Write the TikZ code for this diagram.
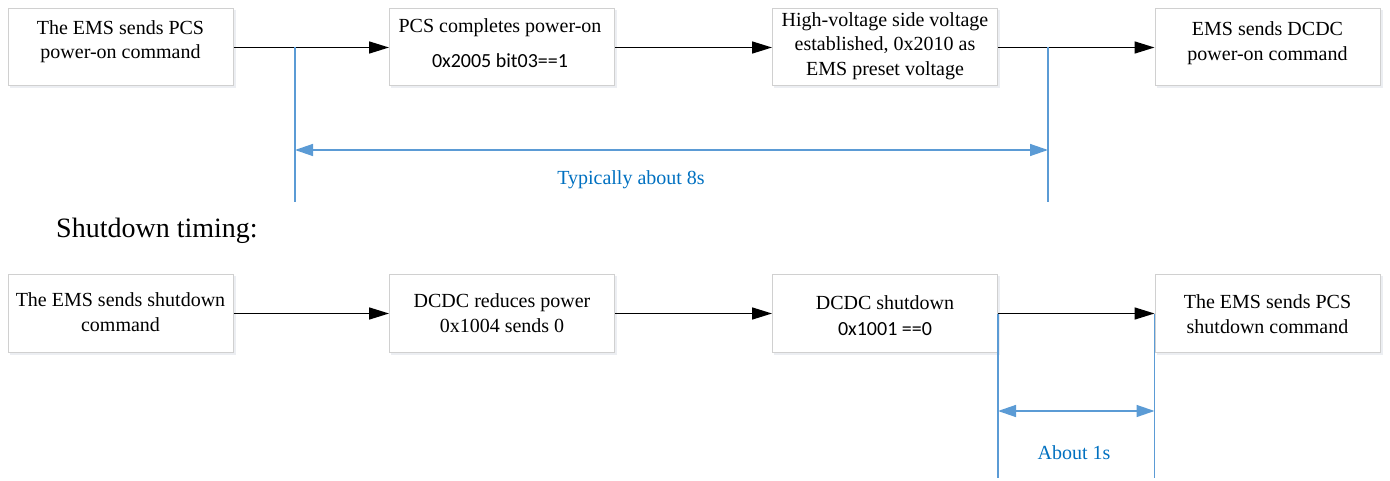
\documentclass[tikz,border=0pt]{standalone}
\usepackage{fontspec}
\setmainfont{Liberation Serif}
\newfontfamily\codefont{Carlito}
\usetikzlibrary{arrows.meta,calc}

\definecolor{boxline}{RGB}{208,208,208}
\definecolor{boxshade}{RGB}{236,238,242}
\definecolor{spanline}{RGB}{91,155,213}
\definecolor{spantext}{RGB}{0,112,192}

\tikzset{
  stepbox/.style={draw=boxline, line width=1pt, fill=white,
    minimum width=225pt, minimum height=77pt, inner sep=0pt},
  steptext/.style={align=center, inner sep=0pt,
    font=\fontsize{20}{24.5}\selectfont},
  flow/.style={line width=1.6pt, -{Triangle[length=20pt,width=12pt]}},
  span/.style={draw=spanline, line width=1.4pt},
  spanarrow/.style={span, {Triangle[length=18pt,width=12pt]}-{Triangle[length=18pt,width=12pt]}},
  spanlabel/.style={text=spantext, inner sep=0pt, font=\fontsize{20}{24}\selectfont},
}

\begin{document}
\begin{tikzpicture}[x=1pt, y=-1pt]
\useasboundingbox (0,0) rectangle (1390,481);

% soft shadows under the boxes
\foreach \cx/\cy in {120.5/47.5, 502/47.5, 885/47.5, 1267.5/47.5,
                     120.5/313.5, 502/313.5, 885/313.5, 1267.5/313.5}
  \fill[boxshade] (\cx-111,\cy-37) rectangle (\cx+115,\cy+41);

% ---- power-on sequence ----
\node[stepbox] (a1) at (120.5,47.5) {};
\node[stepbox] (a2) at (502,47.5) {};
\node[stepbox] (a3) at (885,47.5) {};
\node[stepbox] (a4) at (1267.5,47.5) {};

\node[steptext] (a1t) at (120.5,41.5) {The EMS sends PCS\\power-on command};
\node[steptext] (a2t) at (500,43) {PCS completes power-on\\[10pt]{\codefont 0x2005 bit03==1}};
\node[steptext] (a3t) at (885,46) {High-voltage side voltage\\established, 0x2010 as\\EMS preset voltage};
\node[steptext] (a4t) at (1267.5,43) {EMS sends DCDC\\power-on command};

\draw[flow] (a1) -- (a2);
\draw[flow] (a2) -- (a3);
\draw[flow] (a3) -- (a4);

% span of the power-on delay
\coordinate (p1) at (295,47.5);
\coordinate (p2) at (1048,47.5);
\coordinate (p1e) at (295,202);
\coordinate (p2e) at (1048,202);
\draw[span] (p1) -- (p1e);
\draw[span] (p2) -- (p2e);
\draw[spanarrow] (295,150) -- (1048,150);
\node[spanlabel] (pl) at (631,180) {Typically about 8s};

% ---- shutdown sequence ----
\node[anchor=west, inner sep=0pt, font=\fontsize{28}{32}\selectfont] (sh) at (56,231) {Shutdown timing:};

\node[stepbox] (b1) at (120.5,313.5) {};
\node[stepbox] (b2) at (502,313.5) {};
\node[stepbox] (b3) at (885,313.5) {};
\node[stepbox] (b4) at (1267.5,313.5) {};

\node[steptext] (b1t) at (120.5,312) {The EMS sends shutdown\\command};
\node[steptext] (b2t) at (502,313) {DCDC reduces power\\0x1004 sends 0};
\node[steptext] (b3t) at (885,315.5) {DCDC shutdown\\[1pt]{\codefont 0x1001 ==0}};
\node[steptext] (b4t) at (1267.5,314) {The EMS sends PCS\\shutdown command};

\draw[flow] (b1) -- (b2);
\draw[flow] (b2) -- (b3);
\draw[flow] (b3) -- (b4);

% span of the shutdown delay
\coordinate (q1e) at (b3.east |- 0,478);
\coordinate (q2e) at (b4.west |- 0,478);
\draw[span] (b3.east) -- (q1e);
\draw[span] (b4.west) -- (q2e);
\draw[spanarrow] ($(b3.east)+(0,97.5)$) -- ($(b4.west)+(0,97.5)$);
\node[spanlabel] (ql) at (1074,453) {About 1s};
\end{tikzpicture}
\end{document}
